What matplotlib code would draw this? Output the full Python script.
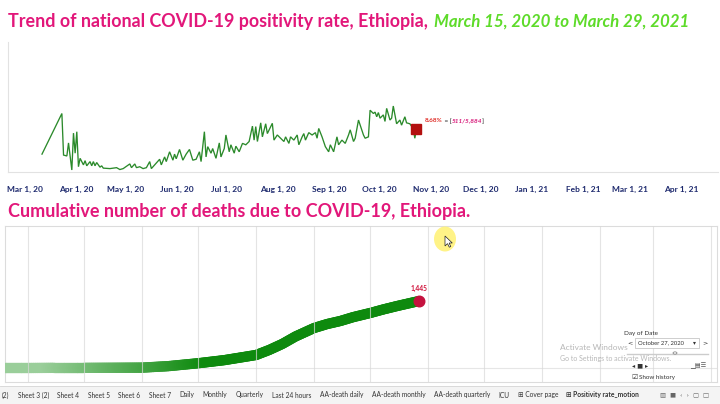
import matplotlib
matplotlib.use("Agg")
import matplotlib.pyplot as plt
import matplotlib.dates as mdates
from matplotlib.collections import LineCollection
from matplotlib.patches import Ellipse, Rectangle, Polygon, Circle
from matplotlib.transforms import ScaledTranslation
import matplotlib.colors as mcolors
import numpy as np
import pandas as pd

# ---------------- data ----------------
title_main = "Trend of national COVID-19 positivity rate, Ethiopia,"
title_period = "March 15, 2020 to March 29, 2021"
title_deaths = "Cumulative number of deaths due to COVID-19, Ethiopia."

pos_start = "2020-03-15"
pos_day = [0, 12, 13, 15, 16, 17, 18, 19, 20, 21,
           22, 23, 25, 26, 27, 29, 30, 31, 32, 33,
           35, 36, 37, 41, 45, 47, 49, 53, 54, 56,
           57, 59, 61, 63, 65, 66, 68, 71, 72, 74,
           75, 77, 79, 80, 81, 83, 85, 87, 89, 91,
           93, 95, 96, 98, 99, 100, 102, 103, 105, 107,
           108, 110, 111, 113, 114, 116, 117, 119, 121, 123,
           125, 127, 128, 129, 130, 132, 133, 135, 136, 138,
           139, 140, 142, 144, 146, 147, 149, 150, 152, 154,
           155, 157, 158, 159, 161, 163, 165, 166, 167, 169,
           171, 173, 174, 176, 178, 179, 181, 183, 185, 186,
           188, 189, 191, 194, 195, 197, 198, 200, 201, 202,
           203, 204, 206, 207, 208, 210, 211, 212, 214, 216,
           217, 219, 220, 222, 224, 225, 226]
pos_rate = [3.4, 12.1, 3.2, 3.0, 5.8, 2.8, 0.0, 7.9, 3.6, 8.2,
            0.7, 2.5, 1.1, 2.0, 0.9, 1.8, 0.9, 1.8, 0.9, 1.6,
            0.6, 0.9, 0.4, 0.3, 0.5, 0.1, 0.3, 1.3, 0.5, 1.3,
            0.5, 0.7, 0.3, 0.5, 1.8, 0.3, 1.1, 2.3, 1.1, 2.8,
            1.8, 3.9, 2.1, 3.4, 2.4, 4.4, 2.1, 3.4, 4.4, 2.1,
            2.3, 3.9, 1.8, 8.2, 2.8, 5.0, 3.6, 4.6, 2.5, 5.8,
            2.8, 4.6, 7.5, 3.9, 5.4, 3.6, 5.1, 3.9, 5.7, 5.4,
            6.1, 9.4, 6.4, 9.3, 6.1, 10.1, 7.1, 9.9, 7.8, 9.3,
            10.0, 6.4, 7.5, 6.8, 6.1, 7.1, 5.7, 7.1, 6.4, 7.5,
            5.4, 7.1, 7.8, 6.4, 8.0, 7.5, 8.0, 6.8, 8.9, 7.1,
            5.0, 3.9, 5.4, 3.9, 7.1, 5.4, 6.4, 5.7, 7.5, 8.6,
            6.1, 6.8, 10.7, 7.5, 6.8, 7.1, 12.8, 12.1, 12.4, 11.4,
            12.3, 11.1, 11.8, 10.4, 13.2, 10.7, 11.1, 13.7, 9.9, 10.7,
            9.6, 11.4, 10.1, 9.9, 8.9, 6.8, 8.68]
last_pos_label = "8.68%"
last_pos_counts = "511/5,884"

death_dates = ["2020-03-13", "2020-04-01", "2020-04-15", "2020-05-01", "2020-05-15",
               "2020-06-01", "2020-06-15", "2020-07-01", "2020-07-15", "2020-08-01",
               "2020-08-08", "2020-08-15", "2020-08-22", "2020-09-01", "2020-09-08",
               "2020-09-15", "2020-09-22", "2020-10-01", "2020-10-08", "2020-10-15",
               "2020-10-22", "2020-10-27"]
death_cum = [0, 0, 3, 3, 5,
             8, 40, 103, 170, 281,
             390, 520, 680, 864, 950,
             1015, 1100, 1188, 1265, 1335,
             1400, 1445]

tick_months = pd.date_range("2020-03-01", "2021-04-01", freq="MS")
tab_names = ["(2)", "Sheet 3 (2)", "Sheet 4", "Sheet 5", "Sheet 6", "Sheet 7", "Daily",
             "Monthly", "Quarterly", "Last 24 hours", "AA-death daily", "AA-death monthly",
             "AA-death quarterly", "ICU", "\u229e Cover page", "\u229e Positivity rate_motion"]
current_date_label = "October 27, 2020"

# ---------------- style ----------------
PINK = "#E2177A"
LGREEN = "#5EDB2A"
NAVY = "#1E2A6E"
LINE_GREEN = "#2B8A2B"
DEATH_GREEN = "#0E8A0E"
FONT = ["Lato", "DejaVu Sans"]

W, H = 720, 404
fig = plt.figure(figsize=(W / 100, H / 100), dpi=100)
fig.patch.set_facecolor("white")
renderer = fig.canvas.get_renderer()


def rect(l, t, r, b):
    return [l / W, 1 - b / H, (r - l) / W, (b - t) / H]


def fx(x):
    return x / W


def fy(y):
    return 1 - y / H


def fit(t, width_px):
    bb = t.get_window_extent(renderer)
    t.set_fontsize(t.get_fontsize() * width_px / bb.width)
    return t


# ---------------- titles ----------------
t1 = fig.text(fx(8), fy(22), title_main, color=PINK, fontweight="bold",
              family=FONT, fontsize=11, va="center", ha="left")
fit(t1, 419)
t1b = fig.text(fx(434), fy(22), title_period, color=LGREEN, fontweight="bold",
               style="italic", family=FONT, fontsize=11, va="center", ha="left")
fit(t1b, 256)
t2 = fig.text(fx(8), fy(211), title_deaths, color=PINK, fontweight="bold",
              family=FONT, fontsize=12, va="center", ha="left")
fit(t2, 458)

# ---------------- top chart: positivity ----------------
PX_DAY_TOP = 1.657
ax1 = fig.add_axes(rect(8, 42, 718, 172))
start_num = mdates.date2num(np.datetime64(pos_start))
x_pos = start_num + np.array(pos_day, dtype=float)
ax1.plot(x_pos, pos_rate, color=LINE_GREEN, lw=0.95, solid_joinstyle="miter")
ax1.plot([x_pos[-1]], [pos_rate[-1]], marker="s", markersize=6.5,
         color="#B3100F", linestyle="none")
ax1.set_xlim(start_num - (42 - 8) / PX_DAY_TOP, start_num + (718 - 42) / PX_DAY_TOP)
ax1.set_ylim(-(172 - 170) / 4.67, (170 - 42) / 4.67)
ax1.set_yticks([])
ax1.set_xticks([])
for s in ["top", "right"]:
    ax1.spines[s].set_visible(False)
for s in ["left", "bottom"]:
    ax1.spines[s].set_color("#E2E2E2")
    ax1.spines[s].set_linewidth(0.8)

off = ScaledTranslation(6 / 100, 0, fig.dpi_scale_trans)
first = None
for m in tick_months:
    lab = f"{m:%b} {m.day}, {m:%y}"
    t = ax1.text(mdates.date2num(m), (172 - 189) / 130, lab,
                 transform=ax1.get_xaxis_transform() + off,
                 ha="center", va="center", fontsize=6, fontweight="bold",
                 color=NAVY, family=FONT, clip_on=False)
    if first is None:
        first = t
        fit(t, 36)
        fs_tick = t.get_fontsize()
    else:
        t.set_fontsize(fs_tick)

# label next to the last marker: "8.68% = [511/5,884]"
lab_parts = [(last_pos_label, "#E0302A", "normal"), (" = [", "#444444", "normal"),
             (last_pos_counts, "#D81B7A", "italic"), ("]", "#444444", "normal")]
xcur = 425
for txt, col, sty in lab_parts:
    tt = fig.text(fx(xcur), fy(121), txt, color=col, fontweight="bold", style=sty,
                  fontsize=4.6, family=FONT, ha="left", va="center")
    bb = tt.get_window_extent(renderer)
    xcur += bb.width

# ---------------- bottom chart: cumulative deaths ----------------
PX_DAY_BOT = 1.87
ax2 = fig.add_axes(rect(5, 226, 717, 382))
apr1 = mdates.date2num(np.datetime64("2020-04-01"))
ax2.set_xlim(apr1 - (28 - 5) / PX_DAY_BOT, apr1 + (717 - 28) / PX_DAY_BOT)
ax2.set_ylim(-(382 - 368) * 21.6, (368 - 226) * 21.6)
ax2.set_xticks([])
ax2.set_yticks([])
for s in ax2.spines.values():
    s.set_color("#DCDCDC")
    s.set_linewidth(0.8)
ax2.axhline(0, color="#E6E6E6", lw=0.8, zorder=1)

# history trail: opaque colours fading towards the start (no alpha seams)
dn = mdates.date2num(pd.to_datetime(death_dates))
xs = np.arange(dn[0], dn[-1] + 0.01, 1.0)
ys = np.interp(xs, dn, death_cum)
pts = np.column_stack([xs, ys]).reshape(-1, 1, 2)
segs = np.concatenate([pts[:-1], pts[1:]], axis=1)
f0 = mdates.date2num(np.datetime64("2020-04-10"))
f1 = mdates.date2num(np.datetime64("2020-07-05"))
strength = np.clip(0.42 + 0.58 * (xs[:-1] - f0) / (f1 - f0), 0.42, 1.0)
rgb = np.array(mcolors.to_rgb(DEATH_GREEN))
cols = [tuple((1 - a) * np.ones(3) + a * rgb) for a in strength]
lc = LineCollection(segs, colors=cols, linewidths=7.4, capstyle="round",
                    joinstyle="round", zorder=3)
ax2.add_collection(lc)

for m in tick_months[1:]:
    ax2.axvline(mdates.date2num(m), color="#D9D9D9", lw=0.8, alpha=0.7, zorder=4)

ax2.plot([dn[-1]], [death_cum[-1]], marker="o", markersize=7.6, color="#C4123E",
         linestyle="none", zorder=5)
ax2.annotate(f"{death_cum[-1]:,}", (dn[-1], death_cum[-1]), xytext=(0, 6.5),
             textcoords="offset points", ha="center", va="bottom", fontsize=4.8,
             fontweight="bold", color="#D0143C", family=FONT, zorder=6)

# mouse highlight
fig.patches.append(Ellipse((fx(445), fy(239)), 22 / W, 25 / H, transform=fig.transFigure,
                           facecolor="#FFF27A", edgecolor="none", alpha=0.9, zorder=10))
cur = np.array([[0, 0], [0, 10], [2.5, 7.6], [4.3, 11.2], [5.8, 10.5], [4.1, 7.0], [7.3, 7.0]])
cur_fig = [(fx(445 + p[0]), fy(236 + p[1])) for p in cur]
fig.patches.append(Polygon(cur_fig, closed=True, transform=fig.transFigure,
                           facecolor="white", edgecolor="#222222", lw=0.5, zorder=11))

# ---------------- Day of Date widget ----------------
fig.text(fx(624), fy(333), "Day of Date", fontsize=4.6, color="#333333", family=FONT,
         ha="left", va="center", zorder=12)
fig.text(fx(630), fy(343), "<", fontsize=4.6, color="#333333", ha="center", va="center",
         family=["DejaVu Sans"], zorder=12)
fig.patches.append(Rectangle((fx(635), fy(348)), 64 / W, 10 / H, transform=fig.transFigure,
                             facecolor="white", edgecolor="#BBBBBB", lw=0.5, zorder=12))
fig.text(fx(638), fy(343), current_date_label, fontsize=4.2, color="#333333", family=FONT,
         ha="left", va="center", zorder=13)
fig.text(fx(694), fy(343), "\u25be", fontsize=4.2, color="#333333", ha="center", va="center",
         family=["DejaVu Sans"], zorder=13)
fig.text(fx(705), fy(343), ">", fontsize=4.6, color="#333333", ha="center", va="center",
         family=["DejaVu Sans"], zorder=12)
fig.lines.append(plt.Line2D([fx(627), fx(708)], [fy(354), fy(354)], transform=fig.transFigure,
                            color="#CCCCCC", lw=1.0, zorder=12))
fig.patches.append(Circle((fx(675), fy(353)), 2 / W, transform=fig.transFigure,
                          facecolor="white", edgecolor="#777777", lw=0.5, zorder=13))
fig.text(fx(640), fy(366), "\u25c2 \u25a0 \u25b8", fontsize=4.5, color="#333333",
         ha="center", va="center", family=["DejaVu Sans"], zorder=12)
fig.text(fx(698), fy(366), "\u2581\u25a4\u2630", fontsize=4.5, color="#555555",
         ha="center", va="center", family=["DejaVu Sans"], zorder=12)
fig.text(fx(634), fy(377), "\u2611", fontsize=5, color="#444444", ha="center", va="center",
         family=["DejaVu Sans"], zorder=12)
fig.text(fx(639), fy(377), "Show history", fontsize=4.5, color="#333333", family=FONT,
         ha="left", va="center", zorder=12)
fig.text(fx(560), fy(348), "Activate Windows", fontsize=6.0, color="#9A9A9A", alpha=0.7,
         family=FONT, ha="left", va="center", zorder=14)
fig.text(fx(560), fy(359), "Go to Settings to activate Windows.", fontsize=5.0,
         color="#9A9A9A", alpha=0.7, family=FONT, ha="left", va="center", zorder=14)

# ---------------- tab bar ----------------
fig.patches.append(Rectangle((0, 0), 1, 18 / H, transform=fig.transFigure,
                             facecolor="#F4F4F4", edgecolor="none", zorder=15))
fig.lines.append(plt.Line2D([0, 1], [fy(386), fy(386)], transform=fig.transFigure,
                            color="#D6D6D6", lw=0.6, zorder=16))
xcur = 2
for i, name in enumerate(tab_names):
    bold = i == len(tab_names) - 1
    tt = fig.text(fx(xcur), fy(395), name, fontsize=4.8, color="#333333",
                  fontweight="bold" if bold else "normal", family=FONT,
                  ha="left", va="center", zorder=17)
    bb = tt.get_window_extent(renderer)
    xcur += bb.width + 8.4
fig.text(fx(660), fy(395), "\u25a5  \u25a0  \u2039  \u203a  \u25a2  \u25a1", fontsize=4.6,
         color="#666666", family=["DejaVu Sans"], ha="left", va="center", zorder=17)

fig.savefig("out.png", dpi=100, facecolor="white")
